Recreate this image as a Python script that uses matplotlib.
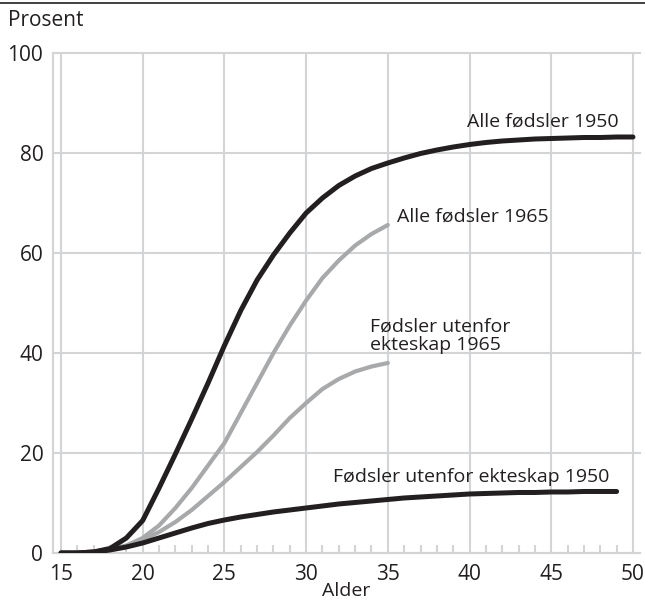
import numpy as np
import matplotlib.pyplot as plt
from matplotlib.lines import Line2D

plt.rcParams['font.family'] = ['Open Sans', 'DejaVu Sans']

# alder (år)
age_1950 = list(range(15, 51))
age_1950_ute = list(range(15, 50))
age_1965 = list(range(18, 36))

# prosent, lest av figuren
alle_1950 = [0, 0, 0.2, 0.9, 3.0, 6.5, 13, 19.8, 26.8, 34, 41.5, 48.5, 54.6,
             59.6, 64, 68, 71, 73.5, 75.4, 76.9, 78, 79, 79.9, 80.6, 81.2,
             81.7, 82.1, 82.4, 82.6, 82.8, 82.9, 83.0, 83.1, 83.1, 83.2, 83.2]
ute_1950 = [0, 0, 0.2, 0.6, 1.2, 2.0, 3.0, 4.0, 5.0, 5.9, 6.6, 7.2, 7.7,
            8.2, 8.6, 9.0, 9.4, 9.8, 10.1, 10.4, 10.7, 11.0, 11.2, 11.4,
            11.6, 11.8, 11.9, 12.0, 12.1, 12.1, 12.2, 12.2, 12.3, 12.3, 12.3]
alle_1965 = [0.6, 1.5, 3.0, 5.5, 9.0, 13, 17.5, 22, 28, 34, 40, 45.5, 50.5,
             55, 58.5, 61.5, 63.8, 65.6]
ute_1965 = [0.6, 1.4, 2.6, 4.2, 6.2, 8.6, 11.4, 14.2, 17.2, 20.2, 23.5, 27,
            30, 32.8, 34.8, 36.3, 37.3, 38]

black = '#231f20'
gray = '#a8a9ab'
grid = '#d3d4d6'
fs = 14
tfs = 15

fig = plt.figure(figsize=(6.45, 6.01), dpi=100)
ax = fig.add_axes([0.0822, 0.0799, 0.9100, 0.8319])

ax.plot(age_1965, alle_1965, color=gray, lw=3.0, solid_capstyle='round', zorder=3)
ax.plot(age_1965, ute_1965, color=gray, lw=3.0, solid_capstyle='round', zorder=3)
ax.plot(age_1950, alle_1950, color=black, lw=3.6, solid_capstyle='round', zorder=4)
ax.plot(age_1950_ute, ute_1950, color=black, lw=3.6, solid_capstyle='round', zorder=4)

ax.text(49.15, 85.2, 'Alle fødsler 1950', fontsize=fs, ha='right', va='baseline', color=black)
ax.text(35.56, 66.2, 'Alle fødsler 1965', fontsize=fs, ha='left', va='baseline', color=black)
ax.text(33.9, 40.6, 'Fødsler utenfor\nekteskap 1965', fontsize=fs, ha='left', va='baseline',
        color=black, linespacing=1.05)
ax.text(31.65, 14.2, 'Fødsler utenfor ekteskap 1950', fontsize=fs, ha='left', va='baseline',
        color=black)

ax.set_xlim(14.51, 50.43)
ax.set_ylim(0, 100)
ax.set_xticks(range(15, 51, 5))
ax.set_xticks(range(15, 51), minor=True)
ax.set_yticks(range(0, 101, 20))
ax.grid(True, color=grid, lw=1.5, zorder=0)
ax.set_axisbelow(True)
for gl in ax.get_ygridlines() + ax.get_xgridlines():
    gl.set_clip_on(False)

ax.tick_params(axis='both', which='major', length=0, labelsize=tfs, colors=black)
ax.tick_params(axis='x', which='major', pad=8)
ax.tick_params(axis='y', which='major', pad=7)
ax.tick_params(axis='x', which='minor', direction='in', length=6, width=1.5, color=grid)
ax.tick_params(axis='y', which='minor', length=0)

for side in ['top', 'right']:
    ax.spines[side].set_visible(False)
for side in ['left', 'bottom']:
    ax.spines[side].set_color(grid)
    ax.spines[side].set_linewidth(1.5)

ax.set_xlabel('Alder', fontsize=fs, color=black, labelpad=-2)
fig.text(0.012, 0.966, 'Prosent', fontsize=tfs, color=black, ha='left', va='center')
fig.add_artist(Line2D([0, 1], [0.995, 0.995], color=black, lw=1.2))

fig.savefig('out.png', dpi=100)
